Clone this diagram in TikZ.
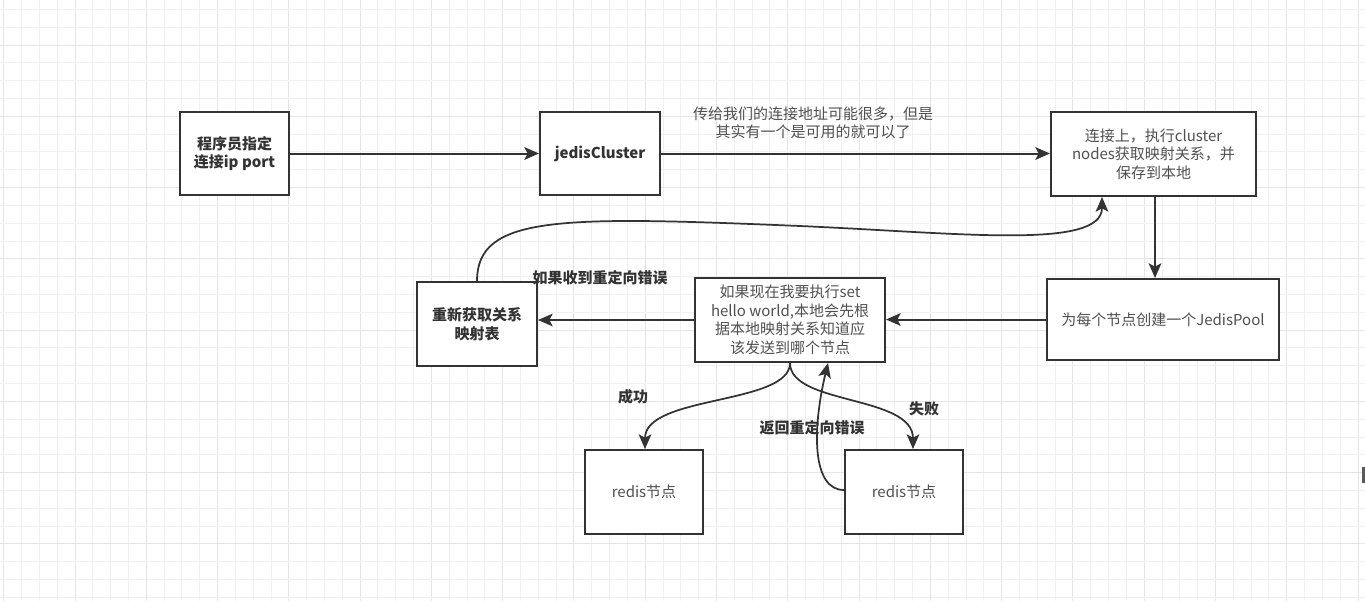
\documentclass[tikz,border=0pt]{standalone}
\usepackage{fontspec}
\setmainfont{Noto Sans CJK SC}
\usetikzlibrary{arrows.meta}
\newlength{\pxu}\setlength{\pxu}{0.75pt}
\definecolor{linec}{HTML}{333333}
\definecolor{txtn}{HTML}{505050}
\definecolor{txtb}{HTML}{333333}
\definecolor{gridmin}{HTML}{F0F0F0}
\definecolor{gridmaj}{HTML}{E4E4E4}
\tikzset{
  box/.style={draw=linec, line width=1.5pt, fill=white, inner sep=0pt, align=center,
    font=\fontsize{11.25pt}{13.9pt}\selectfont, text=txtn},
  boldbox/.style={box, font=\fontsize{11.25pt}{13.9pt}\selectfont\bfseries, text=txtb},
  conn/.style={draw=linec, line width=1.5pt, -{Stealth[length=11pt,width=9.5pt,inset=2.5pt]}},
  curveconn/.style={conn, line width=1.3pt},
  lbl/.style={inner sep=0pt, align=center, font=\fontsize{11.25pt}{13.9pt}\selectfont, text=txtn},
  boldlbl/.style={lbl, font=\fontsize{11.25pt}{13.9pt}\selectfont\bfseries, text=txtb},
  minorgrid/.style={draw=gridmin, line width=0.75pt},
  majorgrid/.style={draw=gridmaj, line width=0.75pt}
}
\begin{document}
\begin{tikzpicture}[x=0.75pt, y=-0.75pt]
\useasboundingbox (0,0) rectangle (1365,601);
\fill[white] (0,0) rectangle (1365,601);
\begin{scope}
\clip (0,0) rectangle (1365,601);
\foreach \i in {-4,...,72}{
  \pgfmathsetmacro\xx{75+17.82*\i}
  \pgfmathtruncatemacro\mm{mod(\i+400,4)}
  \ifnum\mm=0 \draw[majorgrid] (\xx,0) -- (\xx,601); \else \draw[minorgrid] (\xx,0) -- (\xx,601); \fi
}
\foreach \j in {-2,...,31}{
  \pgfmathsetmacro\yy{45+17.82*\j}
  \pgfmathtruncatemacro\mm{mod(\j+400,4)}
  \ifnum\mm=0 \draw[majorgrid] (0,\yy) -- (1365,\yy); \else \draw[minorgrid] (0,\yy) -- (1365,\yy); \fi
}
\fill[black!65] (1362,467) rectangle (1365,483);
\end{scope}

% boxes
\node[boldbox, minimum width=109\pxu, minimum height=83\pxu] (b1) at (234.5,153.5) {程序员指定\\连接ip port};
\node[boldbox, minimum width=120\pxu, minimum height=83\pxu] (b2) at (600,153.5) {jedisCluster};
\node[box, minimum width=205\pxu, minimum height=84\pxu] (b3) at (1153.5,154) {连接上，执行cluster\\nodes获取映射关系，并\\保存到本地};
\node[box, minimum width=232\pxu, minimum height=81\pxu] (b4) at (1163,319.5) {为每个节点创建一个JedisPool};
\node[box, minimum width=190\pxu, minimum height=84\pxu] (b5) at (790,320) {如果现在我要执行set\\hello world,本地会先根\\据本地映射关系知道应\\该发送到哪个节点};
\node[boldbox, minimum width=120\pxu, minimum height=84\pxu] (b6) at (477,324) {重新获取关系\\映射表};
\node[box, minimum width=118\pxu, minimum height=84\pxu] (b7) at (644,492) {redis节点};
\node[box, minimum width=118\pxu, minimum height=84\pxu] (b8) at (904,492) {redis节点};

% labels
\node[lbl] (l1) at (813,123) {传给我们的连接地址可能很多，但是\\其实有一个是可用的就可以了};
\node[boldlbl] (l2) at (600,278) {如果收到重定向错误};
\node[boldlbl] (l3) at (633,397) {成功};
\node[boldlbl] (l4) at (924,409) {失败};
\node[boldlbl] (l5) at (812,428) {返回重定向错误};

% connectors
\draw[conn] (b1.east) -- (b2.west);
\draw[conn] (b2.east) -- (b2.east -| b3.west);
\draw[conn] ([xshift=1.5\pxu]b3.south) -- ([xshift=1.5\pxu]b3.south |- b4.north);
\draw[conn] (b4.west) -- (b4.west -| b5.east);
\draw[conn] (b5.west) -- (b5.west -| b6.east);
\draw[curveconn] (b6.north) .. controls (477,215) and (560,216) .. (800,226)
   .. controls (960,233) and (1102,250) .. ([xshift=-51.5\pxu]b3.south);
\draw[curveconn] (b5.south) .. controls (790,405) and (645,395) .. ([xshift=1\pxu]b7.north);
\draw[curveconn] (b5.south) .. controls (790,405) and (913,395) .. ([xshift=9\pxu]b8.north);
\draw[curveconn] ([yshift=2\pxu]b8.west) .. controls (812,490) and (812,430) .. ([xshift=38\pxu]b5.south);
\end{tikzpicture}
\end{document}
